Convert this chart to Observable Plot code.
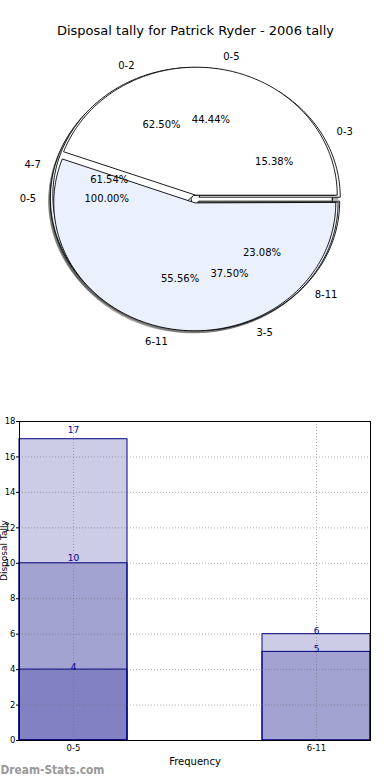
<!DOCTYPE html>
<html><head><meta charset="utf-8">
<script src="https://cdn.jsdelivr.net/npm/d3@7"></script>
<script src="https://cdn.jsdelivr.net/npm/@observablehq/plot@0.6"></script>
<style>
html,body{margin:0;padding:0;background:#fff;}
#chart{width:390px;height:780px;position:relative;overflow:hidden;font-family:"DejaVu Sans",sans-serif;}
#chart svg{display:block;}
</style></head><body><div id="chart"></div>
<script>
const title = "Disposal tally for Patrick Ryder - 2006 tally";
// Pies (percent shares), listed bottom to top in drawing order
const pieDLabels = ["0-5"];
const pieDValues = [100.00];
const pieCLabels = ["0-3", "4-7", "8-11"];
const pieCValues = [15.38, 61.54, 23.08];
const pieBLabels = ["0-2", "3-5"];
const pieBValues = [62.50, 37.50];
const pieALabels = ["0-5", "6-11"];
const pieAValues = [44.44, 55.56];
const pieColors = ["#ffffff", "#ebf1fc"];

// Bar chart
const barCategories = ["0-5", "6-11"];
const seriesTotal = [17, 6];
const seriesMid = [10, 5];
const seriesLow = [4, null];
const yTicks = [0, 2, 4, 6, 8, 10, 12, 14, 16, 18];
const xLabel = "Frequency";
const yLabel = "Disposal Tally";
const watermark = "Dream-Stats.com";

const font = "DejaVu Sans";

// ---- pie geometry (matplotlib-like: start at 0°, counterclockwise)
const explode = 0.03, labelDist = 1.1, pctDist = 0.6;
const pies = [
  {labels: pieDLabels, values: pieDValues},
  {labels: pieCLabels, values: pieCValues},
  {labels: pieBLabels, values: pieBValues},
  {labels: pieALabels, values: pieAValues}
];
const wedgePts = [], labelsL = [], labelsR = [], pcts = [];
pies.forEach((p, pi) => {
  const total = d3.sum(p.values);
  let a0 = 0;
  p.values.forEach((v, wi) => {
    const a1 = a0 + v / total * 2 * Math.PI;
    const am = (a0 + a1) / 2;
    const ox = explode * Math.cos(am), oy = explode * Math.sin(am);
    const id = pi + "-" + wi;
    const color = pieColors[wi % pieColors.length];
    const full = (a1 - a0) >= 2 * Math.PI - 1e-9;
    if (!full) wedgePts.push({id, x: ox, y: oy, color});
    const n = Math.max(2, Math.ceil((a1 - a0) / (Math.PI / 180)));
    for (let k = 0; k <= n; k++) {
      const t = a0 + (a1 - a0) * k / n;
      wedgePts.push({id, x: ox + Math.cos(t), y: oy + Math.sin(t), color});
    }
    const lx = ox + labelDist * Math.cos(am), ly = oy + labelDist * Math.sin(am);
    (lx > 0 ? labelsR : labelsL).push({x: lx, y: ly, text: p.labels[wi]});
    pcts.push({x: ox + pctDist * Math.cos(am), y: oy + pctDist * Math.sin(am), text: (v / total * 100).toFixed(2) + "%"});
    a0 = a1;
  });
});

const pieH = 400, cx = 195, cy = 198.5, rx = 141, ry = 128;
const piePlot = Plot.plot({
  width: 390, height: pieH, margin: 0,
  x: {domain: [-cx / rx, (390 - cx) / rx], axis: null},
  y: {domain: [-(pieH - cy) / ry, cy / ry], axis: null},
  color: {type: "identity"},
  style: {fontFamily: font, background: "white", color: "black"},
  marks: [
    Plot.line(wedgePts, {x: "x", y: "y", z: "id", curve: "linear-closed", fill: "#4d4d4d", fillOpacity: 0.5, stroke: "none", dx: -2, dy: 2.5}),
    Plot.line(wedgePts, {x: "x", y: "y", z: "id", curve: "linear-closed", fill: "color", stroke: "black", strokeWidth: 0.9, strokeLinejoin: "miter"}),
    Plot.text([title], {frameAnchor: "top", dy: 30, lineAnchor: "middle", text: d => d, fontSize: 13, fill: "black"}),
    Plot.text(labelsR, {x: "x", y: "y", text: "text", textAnchor: "start", fontSize: 10, fill: "black"}),
    Plot.text(labelsL, {x: "x", y: "y", text: "text", textAnchor: "end", fontSize: 10, fill: "black"}),
    Plot.text(pcts, {x: "x", y: "y", text: "text", fontSize: 10, fill: "black"})
  ]
});

// ---- bar chart
const barRows = [];
[seriesTotal, seriesMid, seriesLow].forEach((s, si) => s.forEach((v, i) => {
  if (v != null) barRows.push({cat: barCategories[i], value: v, s: si});
}));

const barPlot = Plot.plot({
  width: 390, height: 380,
  marginTop: 21, marginBottom: 40, marginLeft: 19, marginRight: 20,
  x: {domain: barCategories, paddingInner: 0.5556, paddingOuter: 0, align: 0.5},
  y: {domain: [0, 18]},
  style: {fontFamily: font, background: "white", color: "black"},
  marks: [
    Plot.barY(barRows, {x: "cat", y1: 0, y2: "value", fill: "#000080", fillOpacity: 0.2, stroke: "#000080", strokeWidth: 1, inset: 0}),
    Plot.gridY(yTicks, {stroke: "#666", strokeOpacity: 0.5, strokeDasharray: "1,2"}),
    Plot.gridX(barCategories, {stroke: "#666", strokeOpacity: 0.5, strokeDasharray: "1,2"}),
    Plot.text(barRows, {x: "cat", y: d => d.value * 1.03, text: d => String(d.value), fill: "#000099", fontSize: 9}),
    Plot.axisY(yTicks, {tickSize: 3, tickPadding: 1, fontSize: 8.5, label: null}),
    Plot.axisX({tickSize: 0, tickPadding: 4, fontSize: 8.5, label: null}),
    Plot.frame({stroke: "black"}),
    Plot.text([xLabel], {frameAnchor: "bottom", dy: 21, lineAnchor: "middle", text: d => d, fontSize: 10, fill: "black"}),
    Plot.text([yLabel], {frameAnchor: "left", dx: -15, rotate: -90, lineAnchor: "middle", text: d => d, fontSize: 9, fill: "black"}),
    Plot.text([watermark], {frameAnchor: "bottom-left", dx: -19, dy: 30, lineAnchor: "middle", textAnchor: "start", text: d => d, fontSize: 11.8, fontWeight: "bold", fontFamily: "DejaVu Sans Condensed, DejaVu Sans", fill: "#999"})
  ]
});

const chart = document.getElementById("chart");
chart.appendChild(piePlot);
chart.appendChild(barPlot);
</script>
</body></html>
